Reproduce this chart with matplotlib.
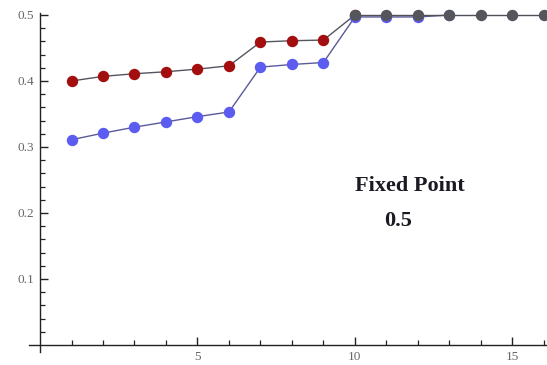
import matplotlib.pyplot as plt

# series
red_x = [1, 2, 3, 4, 5, 6, 7, 8, 9, 10]
red_y = [0.400, 0.407, 0.411, 0.414, 0.418, 0.423, 0.459, 0.461, 0.462, 0.500]

blue_x = [1, 2, 3, 4, 5, 6, 7, 8, 9, 10, 11, 12, 13]
blue_y = [0.311, 0.321, 0.330, 0.338, 0.346, 0.353, 0.421, 0.425, 0.428, 0.497, 0.497, 0.497, 0.500]

gray_x = [10, 11, 12, 13, 14, 15, 16]
gray_y = [0.500, 0.500, 0.500, 0.500, 0.500, 0.500, 0.500]

x_ticks = [5, 10, 15]
y_ticks = [0.1, 0.2, 0.3, 0.4, 0.5]

fig = plt.figure(figsize=(5.47, 3.65), dpi=100)
ax = fig.add_axes([29 / 547, 13 / 365, 518 / 547, 339 / 365])

ax.plot(red_x, red_y, color="#555560", lw=1.0, marker="o", ms=7.2,
        mfc="#a30f0f", mec="#a30f0f", clip_on=False, zorder=3)
ax.plot(blue_x, blue_y, color="#5a5a9a", lw=1.0, marker="o", ms=7.2,
        mfc="#5c5cf0", mec="#5c5cf0", clip_on=False, zorder=4)
ax.plot(gray_x, gray_y, color="#505058", lw=1.0, marker="o", ms=7.2,
        mfc="#55565c", mec="#55565c", clip_on=False, zorder=5)

ax.set_xlim(-0.35, 16.1)
ax.set_ylim(-0.0106, 0.503)

# Mathematica-style axes crossing at the origin
ax.spines["left"].set_position(("data", 0))
ax.spines["bottom"].set_position(("data", 0))
ax.spines["right"].set_visible(False)
ax.spines["top"].set_visible(False)
for s in ["left", "bottom"]:
    ax.spines[s].set_linewidth(1.0)
    ax.spines[s].set_color("#222222")

ax.set_xticks(x_ticks)
ax.set_xticks(range(1, 17), minor=True)
ax.set_yticks(y_ticks)
ax.set_yticks([i * 0.02 for i in range(1, 26)], minor=True)
ax.set_xticklabels([str(t) for t in x_ticks])
ax.set_yticklabels([f"{t:.1f}" for t in y_ticks])

ax.tick_params(which="major", direction="in", length=6, width=1.0, color="#222222",
               labelsize=9.5, labelcolor="#666666", pad=4)
ax.tick_params(which="minor", direction="in", length=3.5, width=0.9, color="#222222")
for lab in ax.get_xticklabels() + ax.get_yticklabels():
    lab.set_fontfamily("Liberation Serif")

ax.text(11.75, 0.241, "Fixed Point", fontsize=16, fontweight="bold",
        family="Liberation Serif", ha="center", va="center", color="#1a1a22")
ax.text(11.38, 0.188, "0.5", fontsize=16, fontweight="bold",
        family="Liberation Serif", ha="center", va="center", color="#1a1a22")

fig.savefig("out.png", dpi=100)
